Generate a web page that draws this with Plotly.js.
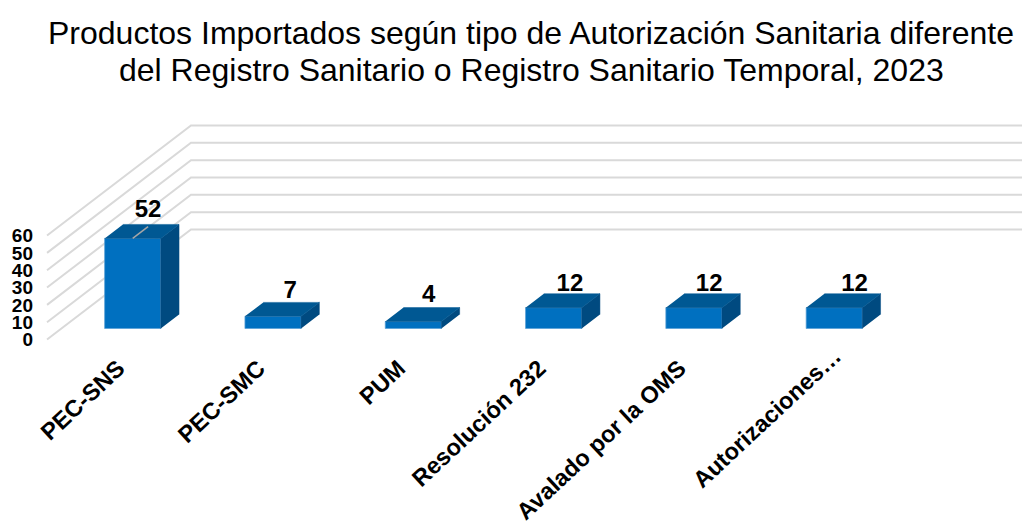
<!DOCTYPE html>
<html>
<head>
<meta charset="utf-8">
<script src="https://cdn.plot.ly/plotly-3.0.1.min.js"></script>
<style>html,body{margin:0;padding:0;background:#fff;overflow:hidden}#chart{width:1022px;height:525px}</style>
</head>
<body>
<div id="chart"></div>
<script>
// --- data ---
const categories = ["PEC-SNS", "PEC-SMC", "PUM", "Resolución 232", "Avalado por la OMS", "Autorizaciones…"];
const values = [52, 7, 4, 12, 12, 12];
const axisTicks = [0, 10, 20, 30, 40, 50, 60];
const titleLine1 = "Productos Importados según tipo de Autorización Sanitaria diferente";
const titleLine2 = "del Registro Sanitario o Registro Sanitario Temporal, 2023";

// --- oblique projection, in axis units ---
const depthX = 1.026, depthY = 63.5;   // full wall depth
const barFront = 0.1, barBack = 0.227; // bar depth position inside the wall
const barWidth = 0.4;
const wallLeft = -0.508;
const xMin = -0.5795, xMax = 6.441, yMin = -3.17, yMax = 195.9;
const pxX = 140.3, pxY = 1.733;        // pixels per axis unit
const proj = (x, v, d) => [x + d * depthX, v + d * depthY];

// style nudges (pixels) for labels
const labelNudgeX = [-3, -1, -3, -2, -3, 2];
const labelNudgeY = [4, 2, 0, 3, 3, 3];
const tickFont = {family: "Liberation Sans", size: 23.5, color: "#000", weight: 700};
const tickAngle = -43;

// walls
const gx = [], gy = [];
axisTicks.forEach(t => {
  const a = proj(wallLeft, t, 0), b = proj(wallLeft, t, 1);
  gx.push(a[0], b[0], xMax, null);
  gy.push(a[1], b[1], b[1], null);
});

// faces
const tx = [], ty = [], sx = [], sy = [];
categories.forEach((c, i) => {
  const L = i - barWidth / 2, R = i + barWidth / 2, v = values[i];
  [[L, v, barFront], [R, v, barFront], [R, v, barBack], [L, v, barBack]].forEach(p => {
    const q = proj(p[0], p[1], p[2]); tx.push(q[0]); ty.push(q[1]);
  });
  tx.push(null); ty.push(null);
  [[R, 0, barFront], [R, v, barFront], [R, v, barBack], [R, 0, barBack]].forEach(p => {
    const q = proj(p[0], p[1], p[2]); sx.push(q[0]); sy.push(q[1]);
  });
  sx.push(null); sy.push(null);
});

// value labels sit just over the back edge of each bar top
const lab = values.map((v, i) => proj(i, v, barBack));
const labelX = lab.map((p, i) => p[0] + labelNudgeX[i] / pxX);
const labelY = lab.map((p, i) => p[1] + (values[i] > 40 ? 3.4 : 0) - labelNudgeY[i] / pxY);

// leader line of the tallest bar
const big = values.indexOf(Math.max(...values));
const lead0 = proj(big, values[big], barFront), lead1 = proj(big, values[big], barBack - 0.02);

const edge = "rgba(90,160,215,0.75)";
const traces = [
  {type: "scatter", mode: "lines", x: gx, y: gy, xaxis: "x", yaxis: "y",
   line: {color: "#d9d9d9", width: 2}, hoverinfo: "skip", showlegend: false, connectgaps: false},
  {type: "bar", x: categories.map((c, i) => i + barFront * depthX), y: values,
   base: values.map(() => barFront * depthY), width: barWidth, xaxis: "x", yaxis: "y2",
   marker: {color: "#0070c0", line: {color: edge, width: 1}}, showlegend: false},
  {type: "scatter", mode: "lines", x: sx, y: sy, xaxis: "x", yaxis: "y2", fill: "toself",
   fillcolor: "#004a80", line: {color: "#004a80", width: 0.5}, hoverinfo: "skip", showlegend: false},
  {type: "scatter", mode: "lines", x: tx, y: ty, xaxis: "x", yaxis: "y2", fill: "toself",
   fillcolor: "#005893", line: {color: "#005893", width: 0.5}, hoverinfo: "skip", showlegend: false},
  {type: "scatter", mode: "lines", x: [lead0[0], lead1[0]], y: [lead0[1], lead1[1]], xaxis: "x", yaxis: "y2",
   line: {color: "#a6a6a6", width: 1.5}, hoverinfo: "skip", showlegend: false},
  {type: "scatter", mode: "text", x: labelX, y: labelY, xaxis: "x", yaxis: "y2",
   text: values.map(String), textposition: "top center", cliponaxis: false,
   textfont: {family: "Liberation Sans", size: 24, color: "#000", weight: 700},
   hoverinfo: "skip", showlegend: false}
];

const titleFont = {family: "Liberation Sans", size: 32, color: "#000"};
const lastIdx = categories.length - 1;
const layout = {
  width: 1022, height: 525, paper_bgcolor: "#fff", plot_bgcolor: "#fff",
  margin: {l: 37, r: 0, t: 0, b: 180, pad: 0},
  showlegend: false,
  font: {family: "Liberation Sans", color: "#000"},
  title: {text: titleLine1, xref: "paper", yref: "container", x: 0.5015, xanchor: "center", y: 0.937, yanchor: "middle", font: titleFont},
  annotations: [
    {text: titleLine2, xref: "paper", yref: "paper", x: 0.5025, xanchor: "center",
     y: 1 - 70 / 345, yanchor: "middle", showarrow: false, font: titleFont},
    // the last, truncated category label sits a little higher than the others
    {text: categories[lastIdx], xref: "paper", yref: "paper", x: 0.741, y: -0.2116, xanchor: "center", yanchor: "middle",
     textangle: tickAngle, showarrow: false, font: tickFont}
  ],
  xaxis: {range: [xMin, xMax], tickmode: "array", tickvals: categories.slice(0, lastIdx).map((c, i) => i), ticktext: categories.slice(0, lastIdx),
          tickangle: tickAngle, showgrid: false, zeroline: false, showline: false, ticks: "", ticklen: 0, ticklabelstandoff: 4,
          tickfont: tickFont, automargin: false, fixedrange: true},
  yaxis: {range: [yMin, yMax], tickmode: "array", tickvals: axisTicks, ticktext: axisTicks.map(String),
          showgrid: false, zeroline: false, showline: false, ticks: "", ticklabelstandoff: 3,
          tickfont: {family: "Liberation Sans", size: 19, color: "#000", weight: 700}, automargin: false, fixedrange: true},
  yaxis2: {range: [yMin, yMax], overlaying: "y", side: "left", visible: false, fixedrange: true}
};
Plotly.newPlot("chart", traces, layout, {displayModeBar: false, staticPlot: true});
</script>
</body>
</html>
